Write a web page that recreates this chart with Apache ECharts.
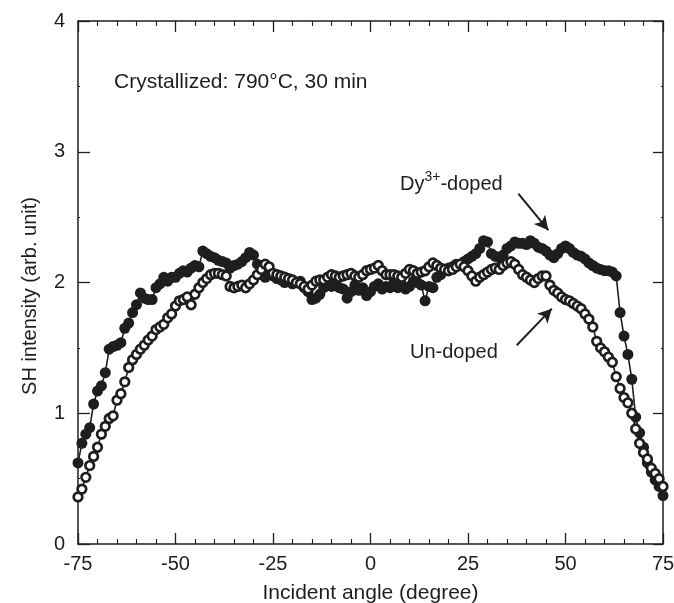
<!DOCTYPE html>
<html>
<head>
<meta charset="utf-8">
<title>SH intensity vs incident angle</title>
<script src="https://cdn.jsdelivr.net/npm/echarts@6/dist/echarts.min.js"></script>
<style>
  html, body { margin: 0; padding: 0; background: #fff; }
  #chart { width: 674px; height: 603px; }
</style>
</head>
<body>
<div id="chart"></div>
<script>
// Incident angle (degree)
const angles = [
  -75,-74,-73,-72,-71,-70,-69,-68,-67,-66,
  -65,-64,-63,-62,-61,-60,-59,-58,-57,-56,
  -55,-54,-53,-52,-51,-50,-49,-48,-47,-46,
  -45,-44,-43,-42,-41,-40,-39,-38,-37,-36,
  -35,-34,-33,-32,-31,-30,-29,-28,-27,-26,
  -25,-24,-23,-22,-21,-20,-19,-18,-17,-16,
  -15,-14,-13,-12,-11,-10,-9,-8,-7,-6,
  -5,-4,-3,-2,-1,0,1,2,3,4,
  5,6,7,8,9,10,11,12,13,14,
  15,16,17,18,19,20,21,22,23,24,
  25,26,27,28,29,30,31,32,33,34,
  35,36,37,38,39,40,41,42,43,44,
  45,46,47,48,49,50,51,52,53,54,
  55,56,57,58,59,60,61,62,63,64,
  65,66,67,68,69,70,71,72,73,74,75
];

// SH intensity, Dy3+-doped sample (filled circles)
const dyDoped = [
  0.62,0.77,0.84,0.89,1.07,1.17,1.21,1.31,1.49,1.51,
  1.52,1.54,1.65,1.69,1.77,1.83,1.92,1.88,1.87,1.87,
  1.96,1.99,2.04,2.01,2.04,2.04,2.07,2.09,2.08,2.11,
  2.13,2.12,2.24,2.22,2.20,2.19,2.17,2.16,2.15,2.11,
  2.13,2.14,2.16,2.19,2.23,2.21,2.14,2.06,2.04,2.06,
  2.05,2.03,2.02,2.00,2.01,1.99,2.00,2.01,1.96,1.93,
  1.87,1.88,1.91,1.96,1.99,1.97,1.98,1.96,1.95,1.88,
  1.93,1.98,1.94,1.96,1.90,1.93,1.97,1.99,1.95,1.97,
  1.96,2.00,1.96,1.98,1.95,1.97,2.01,2.00,1.98,1.86,
  1.97,1.96,2.04,2.06,2.09,2.11,2.12,2.14,2.13,2.16,
  2.18,2.20,2.22,2.26,2.32,2.31,2.22,2.20,2.19,2.21,
  2.26,2.28,2.31,2.30,2.30,2.29,2.32,2.30,2.27,2.26,
  2.24,2.21,2.19,2.22,2.26,2.28,2.26,2.23,2.21,2.20,
  2.18,2.15,2.13,2.11,2.10,2.09,2.09,2.08,2.05,1.77,
  1.59,1.45,1.26,0.97,0.85,0.74,0.62,0.55,0.49,0.44,0.37
];

// SH intensity, un-doped sample (open circles)
const unDoped = [
  0.36,0.42,0.51,0.60,0.67,0.74,0.84,0.90,0.96,0.98,
  1.10,1.15,1.24,1.35,1.41,1.45,1.49,1.52,1.56,1.59,
  1.64,1.66,1.68,1.73,1.76,1.82,1.86,1.87,1.89,1.83,
  1.91,1.96,2.00,2.03,2.06,2.07,2.07,2.06,2.05,1.97,
  1.96,1.97,1.98,1.96,1.99,2.02,2.06,2.10,2.14,2.12,
  2.07,2.06,2.05,2.04,2.03,2.02,2.00,1.99,1.97,1.95,
  1.98,2.01,2.02,2.02,2.04,2.06,2.05,2.04,2.05,2.06,
  2.07,2.05,2.04,2.06,2.09,2.10,2.11,2.13,2.09,2.06,
  2.06,2.06,2.05,2.04,2.07,2.10,2.09,2.07,2.08,2.09,
  2.12,2.15,2.13,2.11,2.10,2.09,2.10,2.12,2.14,2.12,
  2.09,2.05,2.01,2.04,2.06,2.08,2.10,2.11,2.10,2.13,
  2.15,2.16,2.14,2.10,2.06,2.04,2.02,2.00,2.03,2.05,
  2.05,1.98,1.94,1.92,1.89,1.87,1.86,1.84,1.82,1.80,
  1.76,1.72,1.66,1.55,1.50,1.47,1.43,1.39,1.28,1.19,
  1.12,1.08,1.00,0.88,0.77,0.70,0.65,0.58,0.54,0.50,0.44
];

// Annotation arrows: [startAngle, startValue, endAngle, endValue]
const dyArrow = [37.9, 2.68, 45.6, 2.40];
const unArrow = [37.5, 1.52, 46.5, 1.80];

const xTicks = { min: -75, max: 75, interval: 25 };
const yTicks = { min: 0, max: 4, interval: 1 };

const INK = '#1e1e1e';
const FONT = '"Liberation Sans", Arial, Helvetica, sans-serif';

const pairs = (ys) => angles.map((a, i) => [a, ys[i]]);

const chart = echarts.init(document.getElementById('chart'), null, { renderer: 'canvas' });

function xAxisCfg(pos, labelled) {
  return {
    type: 'value', position: pos,
    min: xTicks.min, max: xTicks.max, interval: xTicks.interval,
    axisLine: { show: true, onZero: false, lineStyle: { color: INK, width: 1.5 } },
    axisTick: { show: true, inside: true, length: 11, lineStyle: { color: INK, width: 1.3 } },
    minorTick: { show: true, splitNumber: 5, length: 5, lineStyle: { color: INK, width: 1.1 } },
    splitLine: { show: false },
    axisLabel: { show: labelled, fontSize: 20, color: INK, fontFamily: FONT, margin: 10 },
    name: labelled ? 'Incident angle (degree)' : '',
    nameLocation: 'middle', nameGap: 39,
    nameTextStyle: { fontSize: 21, color: INK, fontFamily: FONT }
  };
}

function yAxisCfg(pos, labelled) {
  return {
    type: 'value', position: pos,
    min: yTicks.min, max: yTicks.max, interval: yTicks.interval,
    axisLine: { show: true, onZero: false, lineStyle: { color: INK, width: 1.5 } },
    axisTick: { show: true, inside: true, length: labelled ? 12 : 10, lineStyle: { color: INK, width: 1.3 } },
    minorTick: { show: true, splitNumber: 2, length: 2, lineStyle: { color: INK, width: 1 } },
    splitLine: { show: false },
    axisLabel: { show: labelled, fontSize: 20, color: INK, fontFamily: FONT, margin: 13 }
  };
}

function arrowLine(a) {
  return [
    { coord: [a[0], a[1]], symbol: 'none' },
    { coord: [a[2], a[3]], symbol: 'arrow' }
  ];
}

chart.setOption({
  animation: false,
  backgroundColor: '#fff',
  textStyle: { fontFamily: FONT },
  grid: {
    left: 78, right: 11, top: 21, bottom: 59,
    containLabel: false, outerBoundsMode: 'none'
  },
  xAxis: [xAxisCfg('bottom', true), xAxisCfg('top', false)],
  yAxis: [yAxisCfg('left', true), yAxisCfg('right', false)],
  series: [
    {
      name: 'Dy3+-doped', type: 'line', data: pairs(dyDoped),
      xAxisIndex: 0, yAxisIndex: 0,
      symbol: 'circle', symbolSize: 11, showAllSymbol: true, clip: false,
      lineStyle: { color: INK, width: 1.6 },
      itemStyle: { color: INK, borderColor: INK, borderWidth: 0 },
      z: 2,
      markLine: {
        silent: true, symbolSize: [11, 14], label: { show: false },
        lineStyle: { color: INK, width: 2, type: 'solid' },
        data: [arrowLine(dyArrow), arrowLine(unArrow)]
      }
    },
    {
      name: 'Un-doped', type: 'line', data: pairs(unDoped),
      xAxisIndex: 0, yAxisIndex: 0,
      symbol: 'circle', symbolSize: 8.6, showAllSymbol: true, clip: false,
      lineStyle: { color: INK, width: 1.6 },
      itemStyle: { color: '#fff', borderColor: INK, borderWidth: 2.7 },
      z: 3
    }
  ],
  graphic: [
    {
      type: 'text', x: 30, y: 296, rotation: Math.PI / 2,
      style: {
        text: 'SH intensity (arb. unit)', fontSize: 20, fill: INK, fontFamily: FONT,
        align: 'center', verticalAlign: 'middle'
      }
    },
    {
      type: 'text', left: 114, top: 72,
      style: { text: 'Crystallized: 790°C, 30 min', fontSize: 21, fill: INK, fontFamily: FONT }
    },
    {
      type: 'text', left: 400, top: 170,
      style: {
        text: '{a|Dy}{s|3+}{a|-doped}',
        rich: {
          a: { fontSize: 20, fill: INK, fontFamily: FONT, lineHeight: 24, verticalAlign: 'bottom' },
          s: { fontSize: 14, fill: INK, fontFamily: FONT, lineHeight: 24, verticalAlign: 'top' }
        }
      }
    },
    {
      type: 'text', left: 410, top: 342,
      style: { text: 'Un-doped', fontSize: 20, fill: INK, fontFamily: FONT }
    }
  ]
});
</script>
</body>
</html>
